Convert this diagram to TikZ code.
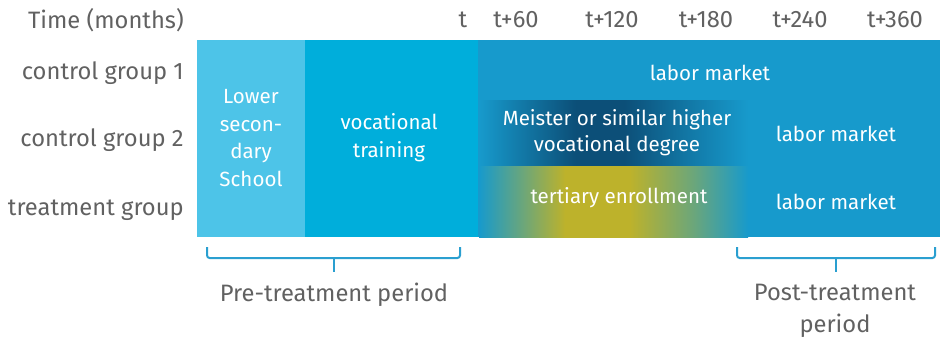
\documentclass[tikz,border=0pt]{standalone}
\usepackage{fontspec}
\setmainfont{Fira Sans}
\definecolor{lightblock}{HTML}{4DC4E8}
\definecolor{vocblock}{HTML}{00AEDB}
\definecolor{mainblue}{HTML}{179ACC}
\definecolor{navy}{HTML}{0C4F78}
\definecolor{olive}{HTML}{BDB22B}
\definecolor{bracecol}{HTML}{2A9FD0}
\definecolor{greytext}{HTML}{616161}
\colorlet{halfnavy}{mainblue!55!navy}
\colorlet{teal}{mainblue!50!olive}
\pgfdeclarehorizontalshading{meistershade}{100bp}{color(0bp)=(mainblue); color(25bp)=(mainblue); color(33bp)=(halfnavy); color(43bp)=(navy); color(52bp)=(navy); color(64bp)=(halfnavy); color(75bp)=(mainblue); color(100bp)=(mainblue)}
\pgfdeclarehorizontalshading{tertshade}{100bp}{color(0bp)=(mainblue); color(25bp)=(mainblue); color(33bp)=(teal); color(41bp)=(olive); color(53bp)=(olive); color(65bp)=(teal); color(75bp)=(mainblue); color(100bp)=(mainblue)}
\tikzset{
  rowlabel/.style={anchor=east,text=greytext,inner sep=0pt},
  timelabel/.style={text=greytext,inner sep=0pt},
  inbar/.style={text=white,align=center,inner sep=0pt,font=\fontsize{15.4}{19.5}\selectfont},
  brace/.style={draw=bracecol,line width=1.5pt,rounded corners=2pt},
  bigtext/.style={font=\fontsize{17.8}{24}\selectfont}
}
\begin{document}
\begin{tikzpicture}[x=0.75pt,y=-0.75pt,every node/.style={bigtext}]
  \useasboundingbox (0,0) rectangle (940,340);
  %bar
  \fill[mainblue] (197,40) rectangle (940,237);
  \fill[lightblock] (197,40) rectangle (305,237);
  \fill[vocblock] (305,40) rectangle (478,237);
  %gradients
  \shade[shading=meistershade] (479,100) rectangle (748,166);
  \shade[shading=tertshade] (479,166) rectangle (748,237);
  %left labels
  \node[rowlabel] (time) at (184,20) {Time (months)};
  \node[rowlabel] (cg1) at (184,73) {control group 1};
  \node[rowlabel] (cg2) at (184,140) {control group 2};
  \node[rowlabel] (tg) at (184,210) {treatment group};
  %time axis
  \node[timelabel] (t0) at (463,20) {t};
  \node[timelabel] (t60) at (516,20) {t+60};
  \node[timelabel] (t120) at (612,20) {t+120};
  \node[timelabel] (t180) at (706,20) {t+180};
  \node[timelabel] (t240) at (800,20) {t+240};
  \node[timelabel] (t360) at (895,20) {t+360};
  %boxes
  \node[inbar,font=\fontsize{15.4}{20.6}\selectfont] (school) at (251,138) {Lower\\secon-\\dary\\School};
  \node[inbar,font=\fontsize{15.4}{21}\selectfont] (voc) at (389,138) {vocational\\training};
  \node[inbar] (lm1) at (710,73) {labor market};
  \node[inbar] (meister) at (617,133) {Meister or similar higher\\vocational degree};
  \node[inbar] (lm2) at (836,134) {labor market};
  \node[inbar] (tert) at (619,198) {tertiary enrollment};
  \node[inbar] (lm3) at (836,202) {labor market};
  %braces
  \draw[brace] (207,247) -- (207,258) -- (460,258) -- (460,247);
  \draw[brace] (334,258) -- (334,272);
  \draw[brace] (737,247) -- (737,258) -- (935,258) -- (935,247);
  \draw[brace] (836,258) -- (836,272);
  \node[timelabel] (pre) at (334,295) {Pre-treatment period};
  \node[timelabel,align=center] (post) at (835,311) {Post-treatment\\period};
\end{tikzpicture}
\end{document}
